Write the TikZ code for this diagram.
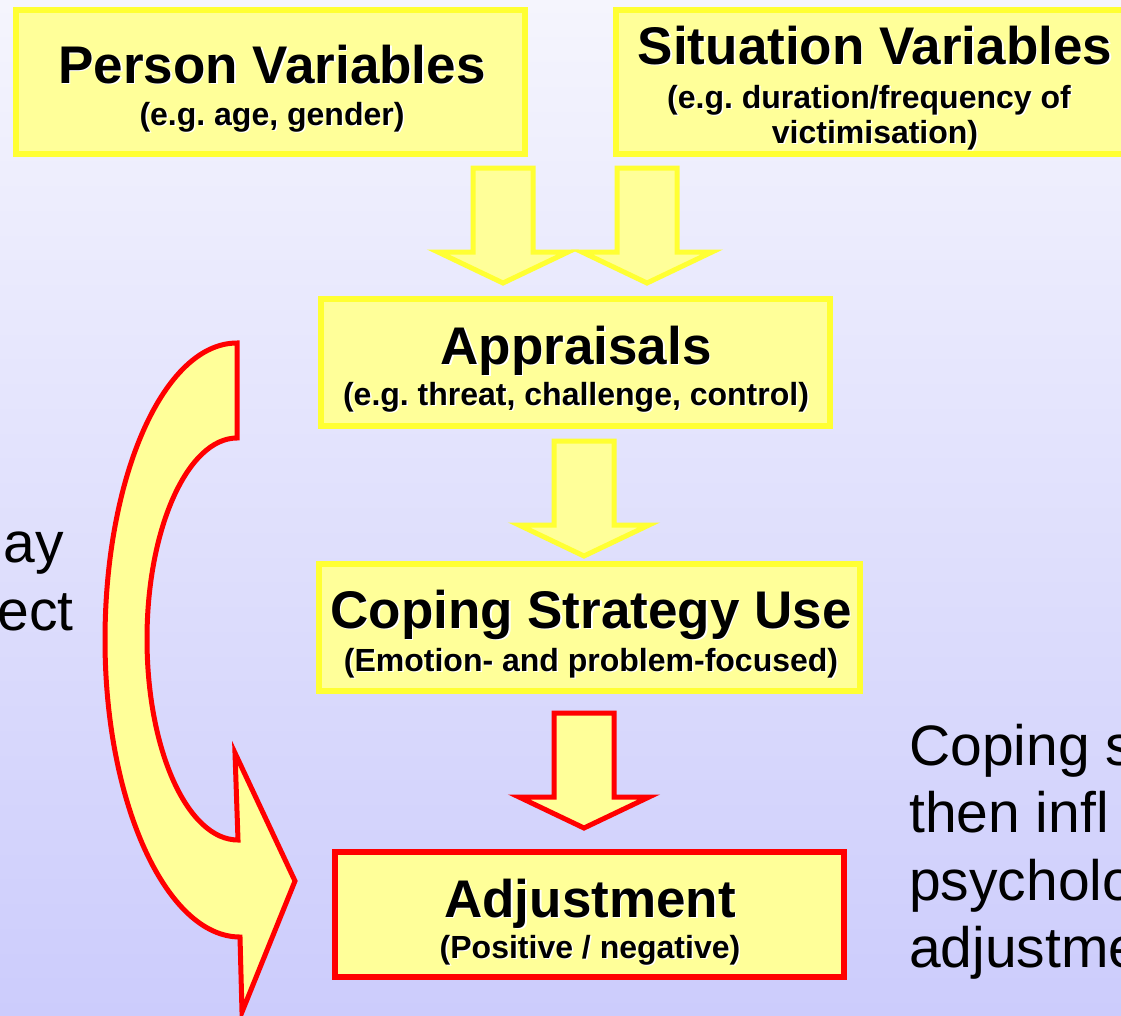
\documentclass[tikz,border=0pt]{standalone}
\usepackage{fontspec}
\setmainfont{Liberation Sans}
\usetikzlibrary{calc}
\definecolor{lemon}{HTML}{FFFF99}
\definecolor{ylw}{HTML}{FFFF33}
\definecolor{bgtop}{HTML}{F5F5FD}
\definecolor{bgbot}{HTML}{CCCCFC}
% white drop shadow behind the bold box texts
\newcommand{\shad}[1]{\rlap{\kern1.5pt\raisebox{-1.5pt}{\color{white}#1}}#1}
\frenchspacing

\begin{document}
\begin{tikzpicture}[x=1pt,y=-1pt,
  ybox/.style={draw=ylw,fill=lemon,line width=6pt,inner sep=0pt,outer sep=0pt},
  rbox/.style={draw=red,fill=lemon,line width=6pt,inner sep=0pt,outer sep=0pt},
  hd/.style={anchor=base,inner sep=0pt,font=\fontsize{53}{60}\selectfont\bfseries},
  sb/.style={anchor=base,inner sep=0pt,font=\fontsize{32}{36}\selectfont\bfseries},
  side/.style={inner sep=0pt,font=\fontsize{57}{68}\selectfont},
  blockarrow/.pic={\path[pic actions] (0,0) -- (-65,-31) -- (-30,-31) -- (-30,-115) -- (30,-115) -- (30,-31) -- (65,-31) -- cycle;}]
\shade[top color=bgtop,bottom color=bgbot] (0,0) rectangle (1121,1015);
\useasboundingbox (0,0) rectangle (1121,1015);
\clip (0,0) rectangle (1121,1015);

% curved arrow on the left
\draw[red,fill=lemon,line width=5pt] (237,343) .. controls (164,343) and (105,476) .. (105,640)
  .. controls (105,804) and (167,937) .. (240,937) -- (242,1012) -- (295,881) -- (235,753) -- (238,840)
  .. controls (188,840) and (147,751) .. (147,639) .. controls (147,528) and (188,438) .. (237,438) -- cycle;

% boxes
\node[ybox,minimum width=509pt,minimum height=144pt] (person) at (270.5,82) {};
\node[ybox,minimum width=518pt,minimum height=144pt] (situation) at (875,82) {};
\node[ybox,minimum width=509pt,minimum height=127pt] (apprais) at (575.5,362.5) {};
\node[ybox,minimum width=541pt,minimum height=127pt] (coping) at (589.5,627.5) {};
\node[rbox,minimum width=509pt,minimum height=125pt] (adjust) at (589.5,914.5) {};

\node[hd] (personhd) at (272,83) {\shad{Person Variables}};
\node[sb] (personsb) at (272,125) {\shad{(e.g. age, gender)}};
\node[hd] (situationhd) at (875,64) {\shad{Situation Variables}};
\node[sb] (situationsb) at (869,108) {\shad{(e.g. duration/frequency of}};
\node[sb] (situationsc) at (875,143) {\shad{victimisation)}};
\node[hd] (appraishd) at (576,364) {\shad{Appraisals}};
\node[sb] (appraissb) at (576,405) {\shad{(e.g. threat, challenge, control)}};
\node[hd] (copinghd) at (591,628) {\shad{Coping Strategy Use}};
\node[sb] (copingsb) at (591,671) {\shad{(Emotion- and problem-focused)}};
\node[hd] (adjusthd) at (590,917) {\shad{Adjustment}};
\node[sb] (adjustsb) at (590,958) {\shad{(Positive / negative)}};

% block arrows
\pic[draw=ylw,fill=lemon,line width=5pt] at ($(apprais.north)+(-72.5,-16)$) {blockarrow};
\pic[draw=ylw,fill=lemon,line width=5pt] at ($(apprais.north)+(71.5,-16)$) {blockarrow};
\pic[draw=ylw,fill=lemon,line width=5pt] at ($(coping.north)+(-5.5,-8)$) {blockarrow};
\pic[draw=red,fill=lemon,line width=5pt] at ($(adjust.north)+(-5.5,-24)$) {blockarrow};

% side texts
\node[side,anchor=base east] (lefta) at (64,562) {ay};
\node[side,anchor=base east] (leftb) at (74,630) {ect};
\foreach \t [count=\i] in {Coping s,then infl,psycholo,adjustme}
  \node[side,anchor=base west] (right\i) at (909,697.5+67.5*\i) {\t};
\end{tikzpicture}
\end{document}
